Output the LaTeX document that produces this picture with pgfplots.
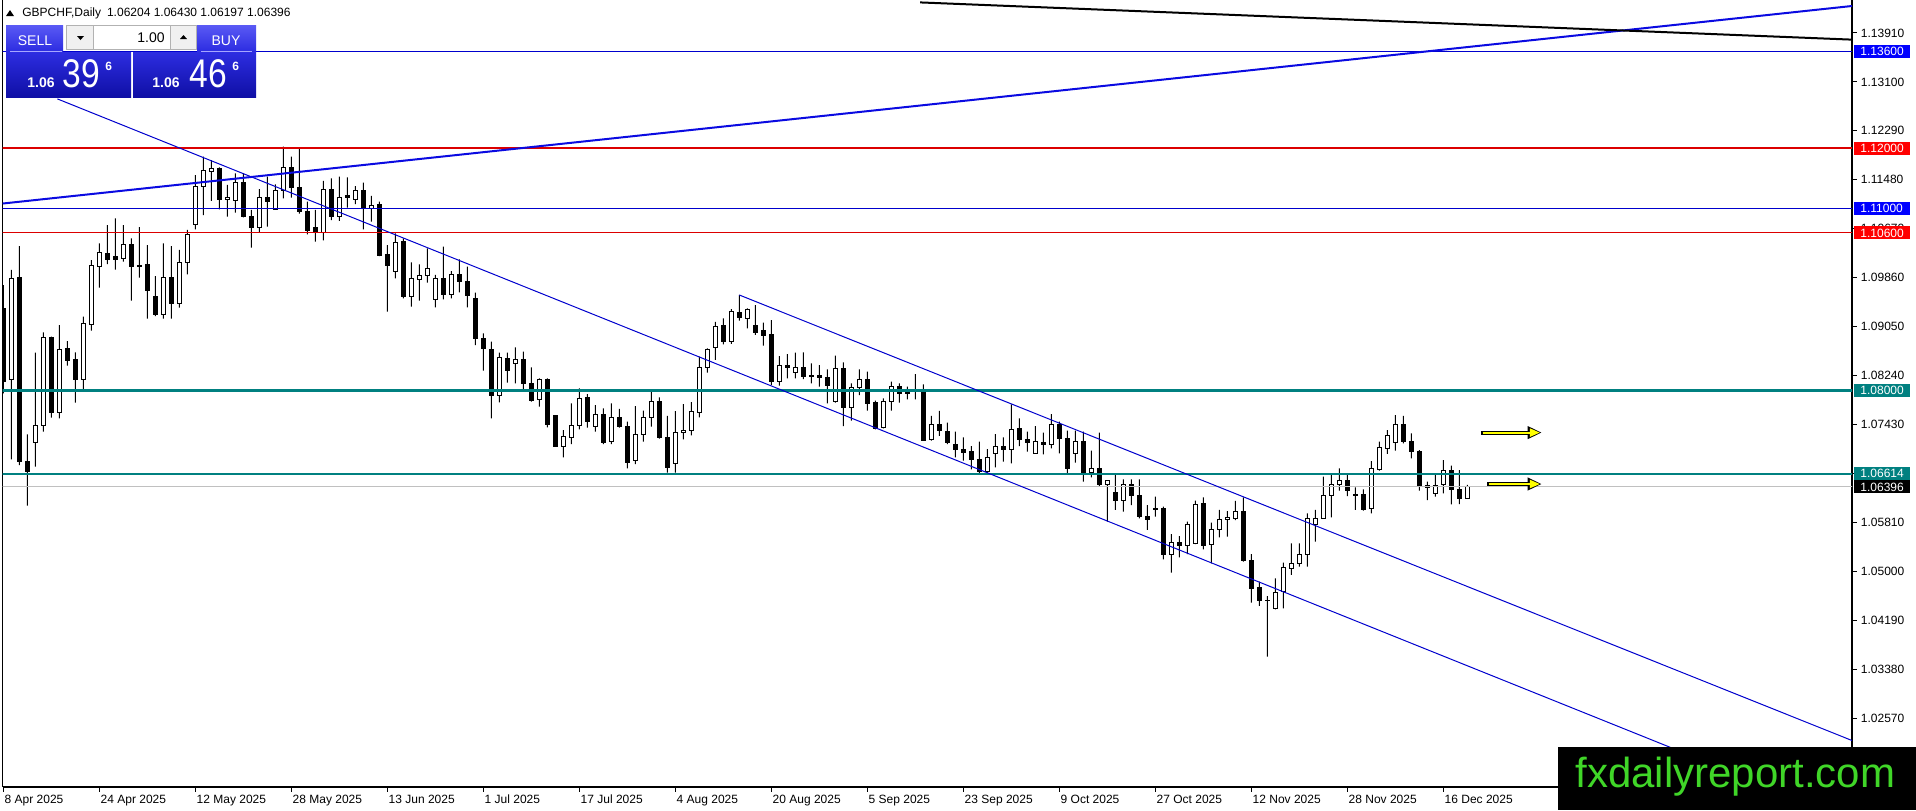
\documentclass[border=0pt]{standalone}
\usepackage{graphicx}
\usepackage{pgfplots}
\pgfplotsset{compat=1.18}
\usepackage{pgfplotstable}
\usetikzlibrary{arrows.meta}
\usepackage{fontspec}
\setmainfont{Liberation Sans}

\definecolor{lineblue}{RGB}{0,0,205}
\definecolor{thickblue}{RGB}{10,10,225}
\definecolor{linered}{RGB}{220,0,0}
\definecolor{lineteal}{RGB}{0,128,128}
\definecolor{bidgray}{RGB}{192,192,192}
\definecolor{boxblue}{RGB}{0,0,255}
\definecolor{boxred}{RGB}{255,0,0}
\definecolor{fxgreen}{RGB}{64,214,40}
\definecolor{btnA}{RGB}{90,90,245}
\definecolor{btnB}{RGB}{45,45,225}
\definecolor{btnC}{RGB}{15,15,165}
\definecolor{arrowyellow}{RGB}{255,255,0}

\pgfplotstableread{
x o h l c
0 1.09352 1.09738 1.07945 1.08138
1 1.08177 1.09987 1.06852 1.09849
2 1.09865 1.10384 1.06758 1.06814
3 1.06814 1.07266 1.06085 1.06648
4 1.07128 1.08618 1.06731 1.07415
5 1.07409 1.08955 1.07310 1.08872
6 1.08872 1.08883 1.07542 1.07625
7 1.07625 1.09076 1.07531 1.08673
8 1.08690 1.08811 1.08403 1.08486
9 1.08508 1.08624 1.07790 1.08177
10 1.08177 1.09214 1.08000 1.09104
11 1.09087 1.10152 1.08982 1.10058
12 1.10047 1.10428 1.09694 1.10279
13 1.10262 1.10731 1.10086 1.10158
14 1.10213 1.10842 1.09992 1.10158
15 1.10174 1.10731 1.10124 1.10411
16 1.10411 1.10511 1.09479 1.10042
17 1.10064 1.10698 1.09860 1.10042
18 1.10080 1.10400 1.09181 1.09644
19 1.09540 1.09887 1.09225 1.09247
20 1.09253 1.10428 1.09181 1.09865
21 1.09865 1.10384 1.09181 1.09429
22 1.09429 1.10318 1.09363 1.10113
23 1.10113 1.10649 1.09915 1.10577
24 1.10742 1.11559 1.10660 1.11366
25 1.11366 1.11863 1.10897 1.11642
26 1.11614 1.11807 1.11129 1.11659
27 1.11659 1.11686 1.10991 1.11156
28 1.11156 1.11394 1.10869 1.11189
29 1.11134 1.11587 1.10936 1.11438
30 1.11438 1.11587 1.10858 1.10869
31 1.10880 1.10980 1.10356 1.10687
32 1.10693 1.11327 1.10610 1.11189
33 1.11189 1.11532 1.10704 1.11118
34 1.10996 1.11405 1.10980 1.11305
35 1.11305 1.12028 1.11173 1.11686
36 1.11686 1.11863 1.11184 1.11349
37 1.11355 1.11990 1.10919 1.10952
38 1.10958 1.11118 1.10577 1.10643
39 1.10693 1.10980 1.10456 1.10610
40 1.10610 1.11460 1.10478 1.11322
41 1.11322 1.11504 1.10814 1.10880
42 1.10880 1.11532 1.10798 1.11189
43 1.11212 1.11521 1.11018 1.11184
44 1.11156 1.11377 1.11079 1.11305
45 1.11305 1.11432 1.10660 1.11013
46 1.11013 1.11212 1.10787 1.11057
47 1.11063 1.11118 1.10218 1.10235
48 1.10251 1.10400 1.09297 1.10058
49 1.09959 1.10594 1.09849 1.10445
50 1.10456 1.10511 1.09518 1.09556
51 1.09545 1.10113 1.09380 1.09838
52 1.09832 1.10080 1.09479 1.09893
53 1.09898 1.10345 1.09777 1.10014
54 1.09501 1.09904 1.09369 1.09849
55 1.09849 1.10373 1.09501 1.09584
56 1.09584 1.09970 1.09518 1.09915
57 1.09915 1.10163 1.09617 1.09793
58 1.09793 1.10042 1.09369 1.09562
59 1.09518 1.09611 1.08745 1.08855
60 1.08855 1.08938 1.08320 1.08690
61 1.08673 1.08800 1.07531 1.07906
62 1.07906 1.08618 1.07796 1.08535
63 1.08524 1.08618 1.08121 1.08320
64 1.08442 1.08706 1.08110 1.08508
65 1.08508 1.08635 1.08011 1.08105
66 1.08110 1.08375 1.07807 1.07823
67 1.07846 1.08193 1.07724 1.08177
68 1.08182 1.08193 1.07382 1.07421
69 1.07575 1.07586 1.07062 1.07073
70 1.07073 1.07338 1.06885 1.07228
71 1.07217 1.07779 1.07106 1.07410
72 1.07410 1.08028 1.07349 1.07862
73 1.07879 1.07934 1.07377 1.07476
74 1.07393 1.07752 1.07310 1.07597
75 1.07597 1.07697 1.07106 1.07134
76 1.07145 1.07779 1.07106 1.07553
77 1.07553 1.07686 1.07377 1.07393
78 1.07404 1.07476 1.06703 1.06797
79 1.06830 1.07735 1.06775 1.07266
80 1.07266 1.07658 1.07145 1.07553
81 1.07553 1.07989 1.07393 1.07818
82 1.07818 1.07879 1.07194 1.07211
83 1.07217 1.07570 1.06632 1.06714
84 1.06786 1.07652 1.06632 1.07299
85 1.07294 1.07768 1.07183 1.07332
86 1.07332 1.07801 1.07250 1.07647
87 1.07630 1.08552 1.07548 1.08375
88 1.08375 1.08690 1.08287 1.08673
89 1.08701 1.09126 1.08497 1.09049
90 1.09076 1.09186 1.08756 1.08800
91 1.08800 1.09341 1.08762 1.09297
92 1.09291 1.09573 1.09148 1.09203
93 1.09186 1.09352 1.09021 1.09335
94 1.09076 1.09407 1.08911 1.08955
95 1.08993 1.09115 1.08734 1.08900
96 1.08911 1.09159 1.08083 1.08138
97 1.08138 1.08563 1.08072 1.08414
98 1.08414 1.08596 1.08193 1.08375
99 1.08293 1.08618 1.08193 1.08375
100 1.08375 1.08624 1.08182 1.08221
101 1.08248 1.08441 1.08110 1.08221
102 1.08248 1.08414 1.08055 1.08210
103 1.08210 1.08342 1.07779 1.08072
104 1.07807 1.08568 1.07790 1.08359
105 1.08359 1.08458 1.07404 1.07708
106 1.07708 1.08110 1.07492 1.08039
107 1.08044 1.08342 1.07917 1.08177
108 1.08177 1.08304 1.07658 1.07779
109 1.07796 1.07823 1.07349 1.07366
110 1.07382 1.07862 1.07366 1.07807
111 1.07807 1.08138 1.07658 1.08055
112 1.08055 1.08110 1.07790 1.07945
113 1.07956 1.08055 1.07846 1.07945
114 1.08000 1.08265 1.07846 1.07984
115 1.08000 1.08094 1.07161 1.07172
116 1.07184 1.07570 1.07161 1.07421
117 1.07421 1.07653 1.07239 1.07327
118 1.07321 1.07459 1.07106 1.07134
119 1.07090 1.07310 1.06886 1.07018
120 1.07023 1.07217 1.06830 1.06963
121 1.06979 1.07073 1.06687 1.06852
122 1.06858 1.07145 1.06604 1.06659
123 1.06659 1.07023 1.06621 1.06886
124 1.06952 1.07272 1.06720 1.07073
125 1.07073 1.07217 1.06814 1.07018
126 1.07018 1.07763 1.06786 1.07349
127 1.07355 1.07531 1.07073 1.07184
128 1.07189 1.07310 1.06979 1.07134
129 1.06952 1.07404 1.06941 1.07145
130 1.07139 1.07294 1.06935 1.07106
131 1.07106 1.07603 1.07034 1.07437
132 1.07437 1.07476 1.06952 1.07200
133 1.07200 1.07327 1.06610 1.06703
134 1.06952 1.07327 1.06797 1.07156
135 1.07156 1.07310 1.06483 1.06632
136 1.06637 1.06996 1.06554 1.06703
137 1.06703 1.07294 1.06411 1.06428
138 1.06444 1.06510 1.05821 1.06499
139 1.06301 1.06610 1.06014 1.06168
140 1.06168 1.06521 1.05986 1.06428
141 1.06428 1.06521 1.06096 1.06251
142 1.06262 1.06521 1.05876 1.05903
143 1.05914 1.06096 1.05683 1.05859
144 1.06041 1.06234 1.05903 1.06025
145 1.06041 1.06069 1.05197 1.05280
146 1.05280 1.05616 1.04976 1.05473
147 1.05478 1.05583 1.05230 1.05423
148 1.05434 1.05820 1.05285 1.05776
149 1.05462 1.06168 1.05451 1.06113
150 1.06124 1.06223 1.05363 1.05434
151 1.05445 1.05804 1.05131 1.05683
152 1.05683 1.06014 1.05561 1.05859
153 1.05859 1.05997 1.05572 1.05887
154 1.05876 1.06163 1.05848 1.05997
155 1.05997 1.06223 1.05158 1.05186
156 1.05186 1.05285 1.04480 1.04717
157 1.04728 1.04827 1.04425 1.04513
158 1.04524 1.04590 1.03586 1.04518
159 1.04386 1.04883 1.04369 1.04651
160 1.04662 1.05142 1.04386 1.05065
161 1.05048 1.05462 1.04938 1.05131
162 1.05131 1.05462 1.05076 1.05280
163 1.05280 1.05958 1.05076 1.05865
164 1.05776 1.06014 1.05489 1.05876
165 1.05876 1.06566 1.05865 1.06251
166 1.06251 1.06610 1.05892 1.06439
167 1.06439 1.06703 1.06334 1.06494
168 1.06494 1.06621 1.06245 1.06334
169 1.06273 1.06389 1.06014 1.06262
170 1.06273 1.06356 1.06003 1.06030
171 1.06041 1.06825 1.05958 1.06703
172 1.06692 1.07145 1.06665 1.07051
173 1.07034 1.07338 1.06941 1.07255
174 1.07134 1.07586 1.06996 1.07421
175 1.07421 1.07570 1.07117 1.07145
176 1.07156 1.07283 1.06869 1.06979
177 1.06990 1.07007 1.06334 1.06416
178 1.06422 1.06483 1.06179 1.06389
179 1.06290 1.06593 1.06234 1.06416
180 1.06428 1.06841 1.06290 1.06665
181 1.06665 1.06748 1.06107 1.06356
182 1.06356 1.06676 1.06113 1.06207
183 1.06204 1.06430 1.06197 1.06396
}\candles

\pgfplotsset{
  chartbase/.style={
    at={(1.35pt,0pt)}, anchor=north west,
    scale only axis, width=924.65pt, height=393.5pt,
    xmin=-0.075, xmax=231.09, ymin=1.014284, ymax=1.14456,
  },
}
\newcommand{\pricebox}[3]{%
  \node[anchor=west, fill=#2, text=white, inner xsep=3pt, inner ysep=0pt,
        minimum height=6.5pt, text width=22pt, align=left,
        font=\fontsize{6}{7}\selectfont] at ([xshift=1pt]axis cs:231.09,#1) {#3};}

\begin{document}
\begin{tikzpicture}
\path[use as bounding box] (0,0) rectangle (958pt,-405pt);

% wicks
\begin{axis}[chartbase, hide axis, ybar stacked, bar width=0.55pt]
\addplot[fill=none, draw=none] table[x=x, y=l] {\candles};
\addplot[fill=black, draw=none] table[x=x, y expr={\thisrow{h}-\thisrow{l}}] {\candles};
\end{axis}

% bodies
\begin{axis}[chartbase, hide axis, ybar stacked, bar width=2pt]
\addplot[fill=none, draw=none] table[x=x, y expr={min(\thisrow{o},\thisrow{c})}] {\candles};
\addplot[fill=white, draw=black, line width=0.5pt] table[x=x, y expr={max(\thisrow{c}-\thisrow{o},0)}] {\candles};
\addplot[fill=black, draw=black, line width=0.5pt] table[x=x, y expr={max(\thisrow{o}-\thisrow{c},0)}] {\candles};
\end{axis}

% lines, frame, ticks
\begin{axis}[chartbase, clip mode=individual,
  axis x line*=bottom, axis y line*=right,
  axis line style={black, line width=0.6pt},
  tick align=outside, major tick length=2.25pt,
  tick style={black, line width=0.5pt},
  xtick={0,12,...,180},
  xticklabels={8 Apr 2025,24 Apr 2025,12 May 2025,28 May 2025,13 Jun 2025,1 Jul 2025,17 Jul 2025,4 Aug 2025,20 Aug 2025,5 Sep 2025,23 Sep 2025,9 Oct 2025,27 Oct 2025,12 Nov 2025,28 Nov 2025,16 Dec 2025},
  xticklabel style={font=\fontsize{6}{7}\selectfont, anchor=north west, inner sep=0pt, xshift=0.5pt, yshift=-1.5pt},
  ytick={1.0257,1.0338,1.0419,1.05,1.0581,1.0662,1.0743,1.0824,1.0905,1.0986,1.1067,1.1148,1.1229,1.131,1.1391},
  yticklabels={1.02570,1.03380,1.04190,1.05000,1.05810,1.06620,1.07430,1.08240,1.09050,1.09860,1.10670,1.11480,1.12290,1.13100,1.13910},
  yticklabel style={font=\fontsize{6}{7}\selectfont, anchor=west, inner sep=0pt, xshift=2pt},
]
\draw[black, line width=0.6pt] (rel axis cs:0,0) -- (rel axis cs:0,1);
\addplot[bidgray, line width=0.5pt] coordinates {(-1,1.06396) (232,1.06396)};
\addplot[lineblue, line width=0.5pt] coordinates {(-1,1.136) (232,1.136)};
\addplot[linered, line width=1pt] coordinates {(-1,1.12) (232,1.12)};
\addplot[lineblue, line width=0.5pt] coordinates {(-1,1.11) (232,1.11)};
\addplot[linered, line width=0.5pt] coordinates {(-1,1.106) (232,1.106)};
\addplot[lineteal, line width=1.5pt] coordinates {(-1,1.08) (232,1.08)};
\addplot[lineteal, line width=1pt] coordinates {(-1,1.06614) (232,1.06614)};
\addplot[lineblue, line width=0.5pt] coordinates {(6.76,1.12819) (224.6,1.01221)};
\addplot[lineblue, line width=0.5pt] coordinates {(92.0,1.09573) (231.09,1.02198)};
\addplot[thickblue, line width=1pt] coordinates {(-0.075,1.11087) (231.09,1.14357)};
\addplot[black, line width=1pt] coordinates {(114.6,1.14416) (231.09,1.13800)};
\addplot[black, line width=2pt, -{Triangle[length=7pt, width=6pt]}] coordinates {(184.7,1.07295) (192.3,1.07295)};
\addplot[arrowyellow, line width=1pt, shorten >=0.9pt, -{Triangle[length=5pt, width=4pt]}] coordinates {(184.9,1.07295) (192.3,1.07295)};
\addplot[black, line width=2pt, -{Triangle[length=7pt, width=6pt]}] coordinates {(185.5,1.06444) (192.3,1.06444)};
\addplot[arrowyellow, line width=1pt, shorten >=0.9pt, -{Triangle[length=5pt, width=4pt]}] coordinates {(185.7,1.06444) (192.3,1.06444)};
\pricebox{1.136}{boxblue}{1.13600}
\pricebox{1.12}{boxred}{1.12000}
\pricebox{1.11}{boxblue}{1.11000}
\pricebox{1.106}{boxred}{1.10600}
\pricebox{1.08}{lineteal}{1.08000}
\pricebox{1.06614}{lineteal}{1.06614}
\pricebox{1.06396}{black}{1.06396}
\end{axis}

% panel, header, watermark (pixel coordinates, y downward)
\begin{scope}[x=0.5pt,y=-0.5pt]
\fill[black] (6,16) -- (14,16) -- (10,10) -- cycle;
\node[anchor=west, inner sep=0pt, font=\fontsize{6}{7}\selectfont] at (22,13) {GBPCHF,Daily\enspace 1.06204 1.06430 1.06197 1.06396};
\shade[top color=btnA, bottom color=btnB] (6,25) rectangle (63,51);
\shade[top color=btnA, bottom color=btnB] (197,25) rectangle (256,51);
\draw[white!65!blue, line width=0.5pt] (10,51) -- (62,51);
\draw[white!65!blue, line width=0.5pt] (201,51) -- (252,51);
\shade[top color=btnB, bottom color=btnC] (6,52) rectangle (131,97);
\shade[top color=btnB, bottom color=btnC] (133,52) rectangle (256,97);
\filldraw[fill=white, draw=gray!60] (66.5,25.5) rectangle (196.5,49.5);
\filldraw[fill=gray!12, draw=gray!60] (66.5,25.5) rectangle (93,49.5);
\filldraw[fill=gray!12, draw=gray!60] (170,25.5) rectangle (196.5,49.5);
\fill[black] (77,36) -- (84,36) -- (80.5,40) -- cycle;
\fill[black] (180,39) -- (187,39) -- (183.5,35) -- cycle;
\node[anchor=base east, inner sep=0pt, font=\fontsize{7}{8}\selectfont] at (165,42) {1.00};
\node[anchor=base, text=white, inner sep=0pt, font=\fontsize{7}{8}\selectfont] at (35,45) {SELL};
\node[anchor=base, text=white, inner sep=0pt, font=\fontsize{7}{8}\selectfont] at (226,45) {BUY};
\node[anchor=base west, text=white, inner sep=0pt, font=\bfseries\fontsize{7}{8}\selectfont] at (27,87) {1.06};
\node[anchor=base west, text=white, inner sep=0pt, font=\fontsize{20}{20}\selectfont] at (62,87) {\scalebox{0.84}[1]{39}};
\node[anchor=north west, text=white, inner sep=0pt, font=\bfseries\fontsize{6}{7}\selectfont] at (105,62) {6};
\node[anchor=base west, text=white, inner sep=0pt, font=\bfseries\fontsize{7}{8}\selectfont] at (152,87) {1.06};
\node[anchor=base west, text=white, inner sep=0pt, font=\fontsize{20}{20}\selectfont] at (189,87) {\scalebox{0.84}[1]{46}};
\node[anchor=north west, text=white, inner sep=0pt, font=\bfseries\fontsize{6}{7}\selectfont] at (232,62) {6};
\fill[black] (1558,747) rectangle (1916,810);
\node[anchor=base west, inner sep=0pt, text=fxgreen, font=\fontsize{21}{21}\selectfont] at (1575,787) {fxdailyreport.com};
\end{scope}
\end{tikzpicture}
\end{document}
